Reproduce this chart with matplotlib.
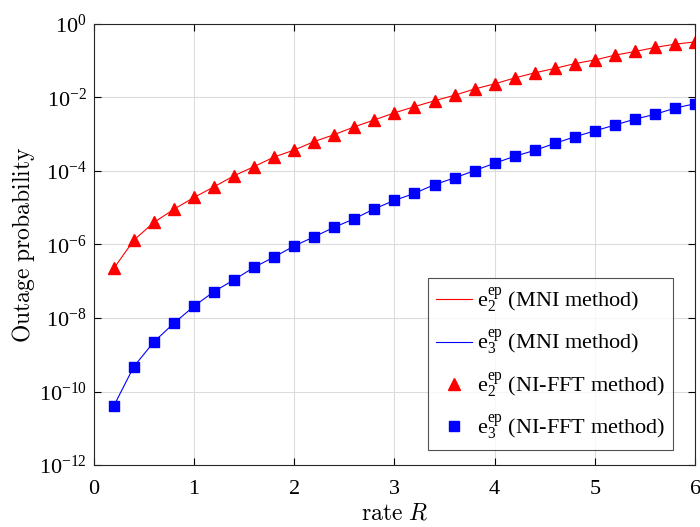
import numpy as np
import matplotlib
matplotlib.use("Agg")
import matplotlib.pyplot as plt

plt.rcParams['font.family'] = ['Liberation Serif', 'DejaVu Serif']
plt.rcParams['mathtext.fontset'] = 'custom'
plt.rcParams['mathtext.rm'] = 'Liberation Serif'
plt.rcParams['mathtext.it'] = 'Liberation Serif:italic'

# rate R
rate = np.round(np.arange(0.2, 6.01, 0.2), 1)

# log10 of outage probability
log_e2 = [-6.65, -5.88, -5.40, -5.04, -4.72, -4.43, -4.13, -3.88, -3.62, -3.43,
          -3.20, -3.01, -2.80, -2.61, -2.42, -2.25, -2.09, -1.94, -1.77, -1.63,
          -1.47, -1.33, -1.21, -1.08, -0.98, -0.85, -0.75, -0.64, -0.55, -0.49]
log_e3 = [-10.39, -9.32, -8.65, -8.14, -7.68, -7.28, -6.96, -6.62, -6.34, -6.04,
          -5.79, -5.53, -5.30, -5.03, -4.80, -4.61, -4.37, -4.19, -3.99, -3.79,
          -3.60, -3.44, -3.25, -3.07, -2.91, -2.75, -2.59, -2.46, -2.29, -2.17]

e2 = 10.0 ** np.array(log_e2)
e3 = 10.0 ** np.array(log_e3)

fig = plt.figure(figsize=(7, 5.27), dpi=100)
ax = fig.add_axes([0.134, 0.1176, 0.859, 0.837])

ax.semilogy(rate, e2, color='red', lw=0.8, label=r'$\mathrm{e}_2^{\mathrm{ep}}$ (MNI method)')
ax.semilogy(rate, e3, color='blue', lw=0.8, label=r'$\mathrm{e}_3^{\mathrm{ep}}$ (MNI method)')
ax.semilogy(rate, e2, ls='none', marker='^', color='red', ms=8.5,
            label=r'$\mathrm{e}_2^{\mathrm{ep}}$ (NI-FFT method)')
ax.semilogy(rate, e3, ls='none', marker='s', color='blue', ms=6.5,
            label=r'$\mathrm{e}_3^{\mathrm{ep}}$ (NI-FFT method)')

ax.set_xlim(0, 6)
ax.set_ylim(1e-12, 1e0)
ax.set_xticks(range(7))
ax.set_yticks([10.0 ** k for k in range(-12, 1, 2)])
ax.yaxis.set_minor_locator(matplotlib.ticker.NullLocator())
ax.grid(True, color='#dcdcdc', lw=0.8)
ax.tick_params(direction='in', top=True, right=True, labelsize=16, length=5)
ax.tick_params(axis='x', pad=11)
ax.tick_params(axis='y', pad=5)
for s in ax.spines.values():
    s.set_color('#262626')
    s.set_linewidth(0.8)

ax.set_xlabel(r'$\mathrm{rate}\ R$', fontsize=17, math_fontfamily='cm', labelpad=3)
ax.set_ylabel(r'$\mathrm{Outage\ probability}$', fontsize=17, math_fontfamily='cm', labelpad=1)

leg = ax.legend(loc='lower right', bbox_to_anchor=(0.9634, 0.034), borderaxespad=0,
                fontsize=16, fancybox=False, edgecolor='#262626',
                handlelength=1.6, handletextpad=0.25, borderpad=0.35, labelspacing=0.6)
leg.get_frame().set_linewidth(0.8)

fig.savefig('out.png', dpi=100)
